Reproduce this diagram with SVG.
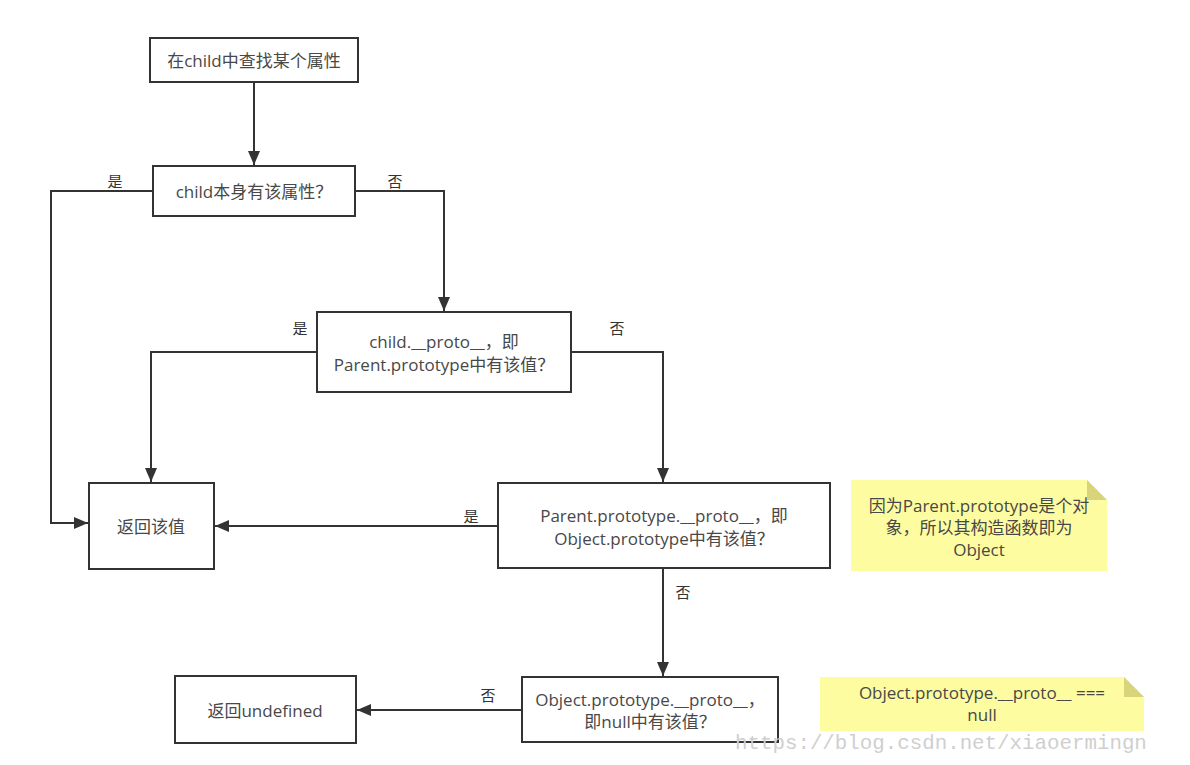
<svg xmlns="http://www.w3.org/2000/svg" width="1190" height="765" viewBox="0 0 1190 765">
<style>
.box{fill:#fff;stroke:#333;stroke-width:2}
.t{font-family:"Open Sans","Noto Sans CJK SC",sans-serif;font-size:17px;fill:#484848;text-anchor:middle;dominant-baseline:central}
.lbl{font-family:"Noto Sans CJK SC",sans-serif;font-size:15px;fill:#333;text-anchor:middle;dominant-baseline:central}
.ln{fill:none;stroke:#333;stroke-width:2}
.note{fill:#fdfca0}
.fold{fill:#d8d47c}
.wm{font-family:"Liberation Mono",monospace;font-size:20.8px;fill:#cfcfcf}
</style>
<defs>
<marker id="ah" viewBox="0 0 14 12" refX="14" refY="6" markerWidth="14" markerHeight="12" markerUnits="userSpaceOnUse" orient="auto">
<path d="M0,0 L14,6 L0,12 Z" fill="#333"/>
</marker>
</defs>
<rect width="1190" height="765" fill="#fff"/>
<g id="connectors">
<path class="ln" d="M254,82 V165" marker-end="url(#ah)"/>
<path class="ln" d="M153,191 H51 V523 H88" marker-end="url(#ah)"/>
<path class="ln" d="M355,191 H444 V311" marker-end="url(#ah)"/>
<path class="ln" d="M317,352 H151 V482" marker-end="url(#ah)"/>
<path class="ln" d="M571,352 H663 V482" marker-end="url(#ah)"/>
<path class="ln" d="M498,526 H215" marker-end="url(#ah)"/>
<path class="ln" d="M663,568 V676" marker-end="url(#ah)"/>
<path class="ln" d="M522,710 H357" marker-end="url(#ah)"/>
<text class="lbl" x="115" y="180">是</text>
<text class="lbl" x="395" y="180">否</text>
<text class="lbl" x="300" y="327">是</text>
<text class="lbl" x="617" y="327">否</text>
<text class="lbl" x="471" y="515">是</text>
<text class="lbl" x="683" y="591">否</text>
<text class="lbl" x="488" y="694">否</text>
</g>
<g id="start">
<rect class="box" x="150" y="38" width="208" height="44"/>
<text class="t" x="254" y="60">在child中查找某个属性</text>
</g>
<g id="q1">
<rect class="box" x="153" y="166" width="202" height="50"/>
<text class="t" x="254" y="191">child本身有该属性？</text>
</g>
<g id="q2">
<rect class="box" x="317" y="312" width="254" height="80"/>
<text class="t" x="444" y="341">child.__proto__，即</text>
<text class="t" x="444" y="364">Parent.prototype中有该值？</text>
</g>
<g id="ret">
<rect class="box" x="89" y="483" width="125" height="86"/>
<text class="t" x="151" y="526">返回该值</text>
</g>
<g id="q3">
<rect class="box" x="498" y="483" width="332" height="85"/>
<text class="t" x="664" y="515">Parent.prototype.__proto__，即</text>
<text class="t" x="664" y="538">Object.prototype中有该值？</text>
</g>
<g id="note1">
<path class="note" d="M851,480 H1087 L1107,500 V571 H851 Z"/>
<path class="fold" d="M1087,480 V500 H1107 Z"/>
<text class="t" x="979" y="505">因为Parent.prototype是个对</text>
<text class="t" x="979" y="527">象，所以其构造函数即为</text>
<text class="t" x="979" y="549">Object</text>
</g>
<g id="q4">
<rect class="box" x="522" y="677" width="256" height="65"/>
<text class="t" x="650" y="699">Object.prototype.__proto__，</text>
<text class="t" x="650" y="721">即null中有该值？</text>
</g>
<g id="undef">
<rect class="box" x="175" y="676" width="181" height="67"/>
<text class="t" x="265" y="710">返回undefined</text>
</g>
<g id="note2">
<path class="note" d="M820,677 H1124 L1144,697 V731 H820 Z"/>
<path class="fold" d="M1124,677 V697 H1144 Z"/>
<text class="t" x="982" y="692">Object.prototype.__proto__ ===</text>
<text class="t" x="982" y="714">null</text>
</g>
<text class="wm" x="735" y="749">https://blog.csdn.net/xiaoermingn</text>
</svg>
